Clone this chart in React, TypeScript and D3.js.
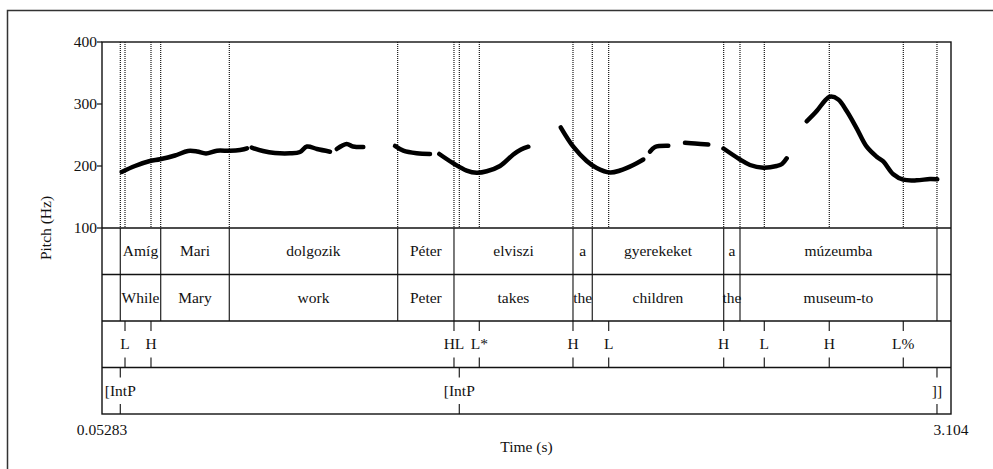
import React from "react";
import * as d3 from "d3";

// ---------- data ----------
const T_MIN = 0.05283;
const T_MAX = 3.104;
const F_MIN = 100;
const F_MAX = 400;
const yTicks = [100, 200, 300, 400];
const xTickLabels = ["0.05283", "3.104"];

// pitch contour segments: [time (s), F0 (Hz)]
const segA: [number, number][] = [
  [0.1236, 190.3], [0.1714, 200], [0.2253, 208], [0.2613, 210.8], [0.3152, 216.9],
  [0.3619, 224.2], [0.3942, 223.4], [0.4266, 220.2], [0.4661, 224.7], [0.5128, 224.5],
  [0.5488, 225.8], [0.5739, 228.5],
];
const segB: [number, number][] = [
  [0.5908, 229.8], [0.6314, 224.2], [0.6745, 221], [0.7285, 220.5], [0.7644, 222.6],
  [0.7895, 231.5], [0.8255, 227.4], [0.8722, 223.1],
];
const segC: [number, number][] = [
  [0.8963, 227.4], [0.9322, 235.5], [0.9549, 231.5], [0.9919, 230.6],
];
const segD: [number, number][] = [
  [1.1058, 232.3], [1.1356, 224.7], [1.1838, 220.5], [1.2316, 219.4],
];
const segE: [number, number][] = [
  [1.265, 219.4], [1.3153, 204.4], [1.3635, 192.7], [1.3994, 189.2], [1.4354, 191.5],
  [1.4832, 200], [1.531, 218.5], [1.5587, 226.6], [1.5849, 231.1],
];
const segF: [number, number][] = [
  [1.7013, 262.4], [1.7466, 231.1], [1.7948, 208.1], [1.8307, 196.8], [1.8785, 189.5],
  [1.9144, 192.7], [1.9622, 201.6], [1.9982, 210.5],
];
const segG: [number, number][] = [
  [2.0222, 223.1], [2.0402, 230.6], [2.088, 232.6],
];
const segH: [number, number][] = [
  [2.148, 237.4], [2.184, 236.3], [2.2318, 234.7],
];
const segI: [number, number][] = [
  [2.2864, 228.2], [2.3457, 210.5], [2.3816, 201.6], [2.4294, 197.3], [2.4776, 200],
  [2.4966, 203.2], [2.5135, 212.4],
];
const segJ: [number, number][] = [
  [2.5853, 272.1], [2.6213, 288.7], [2.6511, 305.6], [2.6691, 311.8], [2.6989, 307.3],
  [2.7291, 288.7], [2.765, 260.8], [2.801, 231.1], [2.8369, 215], [2.8606, 207.3],
  [2.8966, 186.6], [2.9325, 177.9], [2.9807, 176.9], [3.0285, 179], [3.0547, 178.5],
];
const pitchSegments = [segA, segB, segC, segD, segE, segF, segG, segH, segI, segJ];

// interval tiers
const wordBoundaries = [0.1186, 0.2638, 0.5103, 1.1155, 1.3178, 1.7455, 1.8148, 2.2871, 2.3457, 3.0536];
const hungarianWords = ["Amíg", "Mari", "dolgozik", "Péter", "elviszi", "a", "gyerekeket", "a", "múzeumba"];
const glossWords = ["While", "Mary", "work", "Peter", "takes", "the", "children", "the", "museum-to"];

// point tiers
const toneTimes = [0.1355, 0.2289, 1.3178, 1.4088, 1.7455, 1.8738, 2.2871, 2.433, 2.6665, 2.9325];
const toneLabels = ["L", "H", "HL", "L*", "H", "L", "H", "L", "H", "L%"];
const phraseTimes = [0.1186, 1.3369, 3.0536];
const phraseLabels = ["[IntP", "[IntP", "]]"];

// ---------- layout ----------
const W = 993;
const H = 469;
const LEFT = 102;
const RIGHT = 951;
const TOP = 42;
const PITCH_BOTTOM = 228;
const TIER_H = 46.5;
const N_TIERS = 4;
const BOTTOM = PITCH_BOTTOM + TIER_H * N_TIERS;
const FONT = '"Liberation Serif", "Times New Roman", Times, serif';
const FS = 15.5;

export default function App() {
  const x = d3.scaleLinear().domain([T_MIN, T_MAX]).range([LEFT, RIGHT]);
  const y = d3.scaleLinear().domain([F_MIN, F_MAX]).range([PITCH_BOTTOM, TOP]);
  const line = d3
    .line<[number, number]>()
    .x((d) => x(d[0]))
    .y((d) => y(d[1]))
    .curve(d3.curveCatmullRom.alpha(0.5));

  const tierTop = (i: number) => PITCH_BOTTOM + i * TIER_H;
  const tierMid = (i: number) => PITCH_BOTTOM + (i + 0.5) * TIER_H;

  const allMarks = Array.from(new Set([...wordBoundaries, ...toneTimes, ...phraseTimes])).sort((a, b) => a - b);

  const txt = { fontFamily: FONT, fontSize: FS, fill: "#111" } as React.CSSProperties;

  const intervalTier = (words: string[], ti: number) => (
    <g key={"tier" + ti}>
      {wordBoundaries.map((t, i) => (
        <line key={"b" + i} x1={x(t)} x2={x(t)} y1={tierTop(ti)} y2={tierTop(ti) + TIER_H} stroke="#222" strokeWidth={1.2} />
      ))}
      {words.map((w, i) => (
        <text
          key={"w" + i}
          style={txt}
          x={(x(wordBoundaries[i]) + x(wordBoundaries[i + 1])) / 2}
          y={tierMid(ti) + 5}
          textAnchor="middle"
        >
          {w}
        </text>
      ))}
    </g>
  );

  const pointTier = (times: number[], labels: string[], ti: number) => (
    <g key={"ptier" + ti}>
      {times.map((t, i) => (
        <g key={"p" + i}>
          <line x1={x(t)} x2={x(t)} y1={tierTop(ti)} y2={tierTop(ti) + 10} stroke="#222" strokeWidth={1.2} />
          <line x1={x(t)} x2={x(t)} y1={tierTop(ti) + TIER_H - 10} y2={tierTop(ti) + TIER_H} stroke="#222" strokeWidth={1.2} />
          <text style={txt} x={x(t)} y={tierMid(ti) + 5} textAnchor="middle">
            {labels[i]}
          </text>
        </g>
      ))}
    </g>
  );

  return (
    <svg width={W} height={H} style={{ position: "absolute", left: 0, top: 0, display: "block" }}>
      <rect x={0} y={0} width={W} height={H} fill="#fff" />
      {/* outer frame */}
      <rect x={7.5} y={10.5} width={1100} height={600} fill="none" stroke="#333" strokeWidth={1.5} />

      {/* dotted marks in pitch area */}
      {allMarks.map((t, i) => (
        <line key={"d" + i} x1={x(t)} x2={x(t)} y1={TOP} y2={PITCH_BOTTOM} stroke="#000" strokeWidth={1.1} strokeDasharray="1,1" />
      ))}

      {/* pitch contour */}
      {pitchSegments.map((s, i) => (
        <path key={"s" + i} d={line(s) || ""} fill="none" stroke="#000" strokeWidth={4.5} strokeLinecap="round" strokeLinejoin="round" />
      ))}

      {/* tiers */}
      {intervalTier(hungarianWords, 0)}
      {intervalTier(glossWords, 1)}
      {pointTier(toneTimes, toneLabels, 2)}
      {pointTier(phraseTimes, phraseLabels, 3)}

      {/* frame and tier separators */}
      <rect x={LEFT} y={TOP} width={RIGHT - LEFT} height={BOTTOM - TOP} fill="none" stroke="#111" strokeWidth={1.4} />
      {d3.range(N_TIERS).map((i) => (
        <line key={"sep" + i} x1={LEFT} x2={RIGHT} y1={tierTop(i)} y2={tierTop(i)} stroke="#111" strokeWidth={1.4} />
      ))}

      {/* y axis */}
      {yTicks.map((v) => (
        <g key={"yt" + v}>
          <line x1={LEFT - 5} x2={LEFT} y1={y(v)} y2={y(v)} stroke="#111" strokeWidth={1.2} />
          <text style={txt} x={LEFT - 5} y={y(v) + 5} textAnchor="end">{v}</text>
        </g>
      ))}
      <text style={txt} transform={`translate(51,${(TOP + BOTTOM) / 2}) rotate(-90)`} textAnchor="middle">
        Pitch (Hz)
      </text>

      {/* x axis labels */}
      <text style={txt} x={x(T_MIN)} y={435} textAnchor="middle">{xTickLabels[0]}</text>
      <text style={txt} x={x(T_MAX)} y={435} textAnchor="middle">{xTickLabels[1]}</text>
      <text style={txt} x={(LEFT + RIGHT) / 2} y={452} textAnchor="middle">Time (s)</text>
    </svg>
  );
}
